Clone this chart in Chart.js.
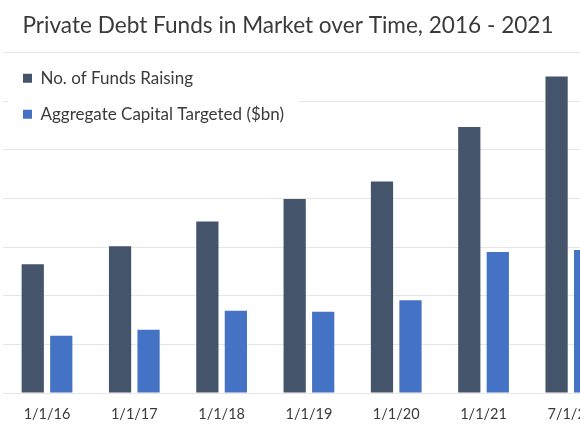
<!DOCTYPE html>
<html>
<head>
<meta charset="utf-8">
<script src="https://cdn.jsdelivr.net/npm/chart.js@4/dist/chart.umd.min.js"></script>
<style>
  html, body { margin: 0; padding: 0; background: #ffffff; overflow: hidden; width: 580px; height: 435px; }
  #wrap { position: relative; width: 616px; height: 435px; }
</style>
</head>
<body>
<div id="wrap"><canvas id="c"></canvas></div>
<script>
const categories = ['1/1/16', '1/1/17', '1/1/18', '1/1/19', '1/1/20', '1/1/21', '7/1/21'];
const fundsRaising = [265, 302, 353, 399, 435, 547, 651];
const capitalTargeted = [118, 130, 169, 167, 191, 290, 294];
const seriesNames = ['No. of Funds Raising', 'Aggregate Capital Targeted ($bn)'];
const titleText = 'Private Debt Funds in Market over Time, 2016 - 2021';

const FONT = 'Lato, "Open Sans", sans-serif';

// Place the chartArea legend at the top-left of the plot area.
const legendPlacement = {
  id: 'legendPlacement',
  afterLayout(chart) {
    const lg = chart.legend;
    if (!lg) return;
    const dy = (chart.chartArea.top - 2) - lg.top;
    lg.top += dy; lg.bottom += dy;
    const dx = (chart.chartArea.left + 0.65) - lg.left;
    lg.left += dx; lg.right += dx;
  },
  afterDraw(chart) {
    const lg = chart.legend;
    if (!lg || !lg.legendHitBoxes || !lg.legendHitBoxes.length) return;
    let x0 = Infinity, y0 = Infinity, x1 = -Infinity, y1 = -Infinity;
    lg.legendHitBoxes.forEach(b => {
      x0 = Math.min(x0, b.left); y0 = Math.min(y0, b.top);
      x1 = Math.max(x1, b.left + b.width); y1 = Math.max(y1, b.top + b.height);
    });
    const ctx = chart.ctx;
    ctx.save();
    ctx.fillStyle = '#ffffff';
    ctx.fillRect(x0 - 15, y0 - 15, (x1 - x0) + 30, (y1 - y0) + 37);
    ctx.restore();
    lg.draw();
  }
};

new Chart(document.getElementById('c'), {
  type: 'bar',
  data: {
    labels: categories,
    datasets: [
      { label: seriesNames[0], data: fundsRaising, backgroundColor: '#44546a', borderWidth: 0 },
      { label: seriesNames[1], data: capitalTargeted, backgroundColor: '#4472c4', borderWidth: 0 }
    ]
  },
  options: {
    responsive: true,
    maintainAspectRatio: false,
    animation: false,
    devicePixelRatio: 1,
    layout: { padding: { left: -38.5, right: 1.5, top: 0, bottom: -1.4 } },
    datasets: { bar: { categoryPercentage: 0.653, barPercentage: 0.78 } },
    plugins: {
      title: {
        display: true,
        text: titleText,
        align: 'center',
        color: '#3a3a3a',
        font: { family: FONT, size: 22.6, weight: 'normal' },
        padding: { top: 12.6, bottom: 13 }
      },
      legend: {
        display: true,
        position: 'chartArea',
        align: 'start',
        labels: {
          boxWidth: 9,
          boxHeight: 9,
          padding: 19,
          color: '#3a3a3a',
          font: { family: FONT, size: 17 }
        }
      },
      tooltip: { enabled: false }
    },
    scales: {
      x: {
        grid: { display: false, drawTicks: false },
        border: { display: false },
        ticks: { color: '#3a3a3a', padding: 13, font: { family: FONT, size: 14.5 }, maxRotation: 0, autoSkip: false }
      },
      y: {
        min: 0,
        max: 700,
        ticks: { display: false, stepSize: 100 },
        grid: { color: '#e6e6e6', lineWidth: 1, drawTicks: false },
        border: { display: false },
        afterFit(scale) { scale.width = 41.85; }
      }
    }
  },
  plugins: [legendPlacement]
});
</script>
</body>
</html>
